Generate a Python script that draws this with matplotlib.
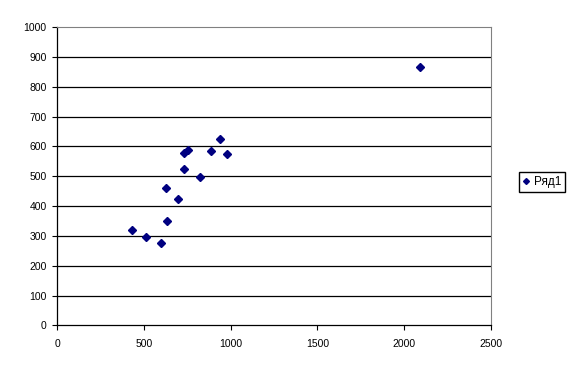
import numpy as np
import matplotlib.pyplot as plt

plt.rcParams['font.family'] = ['Liberation Sans', 'DejaVu Sans']

# Data
x_vals = [432, 513, 597, 634, 628, 695, 731, 730, 753, 822, 887, 937, 977, 2089]
y_vals = [319, 295, 275, 349, 460, 423, 524, 577, 588, 497, 585, 625, 575, 866]
series_name = "Ряд1"

fig = plt.figure(figsize=(5.77, 3.73), dpi=100)
ax = fig.add_axes([0.0988, 0.1276, 0.7522, 0.80])

ax.plot(x_vals, y_vals, linestyle='none', marker='D', markersize=4,
        color='#000080', label=series_name)

ax.set_xlim(0, 2500)
ax.set_ylim(0, 1000)
ax.set_xticks(np.arange(0, 2501, 500))
ax.set_yticks(np.arange(0, 1001, 100))

for y in np.arange(100, 1000, 100):
    ax.axhline(y, color='black', linewidth=0.9, zorder=0)

ax.spines['top'].set_color('#808080')
ax.spines['top'].set_linewidth(0.8)
ax.spines['right'].set_color('#808080')
ax.spines['right'].set_linewidth(0.8)
ax.spines['left'].set_linewidth(0.9)
ax.spines['bottom'].set_linewidth(0.9)
ax.tick_params(direction='out', length=3.5, width=0.8, labelsize=7.5, pad=4)
ax.tick_params(axis='x', pad=6)

fig.legend(loc='center left', bbox_to_anchor=(0.889, 0.512), fontsize=8.5,
           frameon=True, fancybox=False, edgecolor='black', framealpha=1,
           handlelength=0.5, handletextpad=0.4, borderpad=0.35, markerscale=0.75)

fig.savefig("out.png", dpi=100)
